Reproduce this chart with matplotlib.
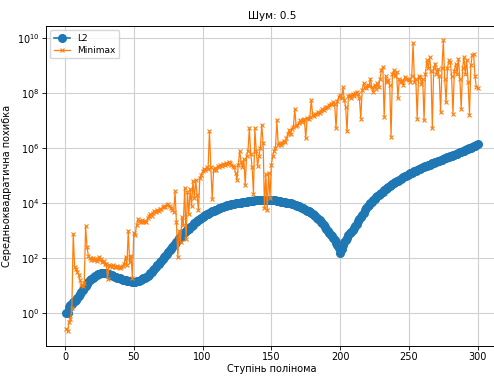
import numpy as np
import matplotlib
matplotlib.use("Agg")
import matplotlib.pyplot as plt

# polynomial degrees 1..300
degrees = list(range(1, 301))

# log10 of the mean squared error, L2 fit
l2_log = [
    0.0, 0.0, 0.25, 0.3, 0.35, 0.4, 0.45, 0.5, 0.56, 0.62,
    0.69, 0.77, 0.85, 0.93, 1.01, 1.08, 1.14, 1.2, 1.25, 1.3,
    1.34, 1.37, 1.4, 1.42, 1.44, 1.45, 1.46, 1.46, 1.46, 1.45,
    1.44, 1.42, 1.4, 1.38, 1.36, 1.34, 1.32, 1.3, 1.28, 1.27,
    1.25, 1.23, 1.21, 1.2, 1.19, 1.18, 1.17, 1.16, 1.15, 1.15,
    1.15, 1.16, 1.17, 1.19, 1.21, 1.24, 1.27, 1.3, 1.33, 1.36,
    1.4, 1.45, 1.5, 1.56, 1.62, 1.68, 1.74, 1.8, 1.86, 1.92,
    1.98, 2.04, 2.1, 2.16, 2.22, 2.29, 2.35, 2.41, 2.47, 2.53,
    2.6, 2.66, 2.72, 2.78, 2.83, 2.88, 2.94, 2.99, 3.04, 3.08,
    3.13, 3.18, 3.22, 3.27, 3.31, 3.35, 3.39, 3.43, 3.47, 3.5,
    3.53, 3.56, 3.59, 3.62, 3.65, 3.67, 3.7, 3.72, 3.74, 3.77,
    3.79, 3.81, 3.83, 3.85, 3.87, 3.88, 3.9, 3.92, 3.93, 3.95,
    3.96, 3.97, 3.98, 3.99, 4.0, 4.0, 4.01, 4.02, 4.03, 4.04,
    4.05, 4.06, 4.07, 4.07, 4.08, 4.09, 4.09, 4.1, 4.1, 4.11,
    4.11, 4.11, 4.12, 4.12, 4.12, 4.12, 4.12, 4.12, 4.12, 4.11,
    4.11, 4.1, 4.1, 4.09, 4.08, 4.07, 4.06, 4.05, 4.04, 4.03,
    4.02, 4.01, 4.0, 3.99, 3.98, 3.96, 3.95, 3.93, 3.91, 3.89,
    3.86, 3.84, 3.81, 3.78, 3.76, 3.73, 3.7, 3.67, 3.64, 3.6,
    3.56, 3.52, 3.48, 3.43, 3.38, 3.33, 3.27, 3.21, 3.14, 3.07,
    3.0, 2.93, 2.86, 2.8, 2.73, 2.65, 2.57, 2.48, 2.37, 2.2,
    2.35, 2.48, 2.58, 2.67, 2.75, 2.83, 2.9, 2.97, 3.04, 3.11,
    3.18, 3.26, 3.34, 3.42, 3.5, 3.58, 3.66, 3.74, 3.82, 3.88,
    3.94, 4.0, 4.06, 4.11, 4.16, 4.21, 4.26, 4.3, 4.34, 4.38,
    4.42, 4.46, 4.5, 4.54, 4.58, 4.62, 4.65, 4.69, 4.72, 4.76,
    4.79, 4.82, 4.85, 4.88, 4.91, 4.94, 4.97, 5.0, 5.03, 5.06,
    5.08, 5.11, 5.13, 5.16, 5.18, 5.21, 5.23, 5.25, 5.28, 5.3,
    5.32, 5.34, 5.36, 5.38, 5.4, 5.42, 5.44, 5.46, 5.48, 5.5,
    5.52, 5.54, 5.56, 5.58, 5.6, 5.62, 5.64, 5.66, 5.68, 5.7,
    5.72, 5.74, 5.76, 5.78, 5.8, 5.82, 5.84, 5.86, 5.88, 5.9,
    5.93, 5.95, 5.97, 5.99, 6.01, 6.03, 6.06, 6.08, 6.11, 6.14,
]

# log10 of the mean squared error, minimax fit
minimax_log = [
    -0.55, -0.65, -0.3, -0.2, 0.2, 2.88, 1.7, 1.6, 1.5, 1.4,
    1.2, 1.05, 1.0, 1.1, 3.17, 2.4, 2.1, 2.0, 1.95, 2.0,
    1.93, 1.97, 1.92, 1.96, 2.05, 1.98, 1.85, 1.9, 1.78, 1.8,
    1.25, 1.75, 1.72, 1.7, 1.74, 1.7, 1.68, 1.72, 1.7, 1.66,
    1.7, 1.72, 1.8, 2.05, 1.75, 3.0, 1.85, 2.1, 1.3, 2.93,
    2.85, 3.2, 3.42, 3.35, 3.3, 3.38, 3.32, 3.36, 3.3, 3.45,
    3.52, 3.6, 3.55, 3.65, 3.7, 3.68, 3.75, 3.72, 3.78, 3.8,
    3.85, 3.9, 3.85, 3.92, 3.96, 3.88, 3.82, 3.75, 3.68, 4.43,
    3.3, 2.03, 3.0, 2.6, 3.5, 3.2, 4.55, 2.7, 4.4, 3.6,
    4.5, 3.9, 4.79, 4.2, 4.85, 4.3, 3.75, 4.9, 5.03, 5.15,
    5.25, 5.2, 5.3, 5.25, 6.6, 5.3, 4.15, 5.2, 5.28, 5.22,
    5.35, 5.3, 5.38, 5.35, 5.42, 5.4, 5.45, 5.42, 5.48, 5.45,
    5.4, 5.35, 5.3, 5.1, 4.85, 5.4, 5.9, 5.5, 5.3, 5.6,
    4.67, 5.7, 5.9, 6.71, 5.8, 5.3, 4.35, 6.71, 5.9, 5.35,
    5.7, 6.0, 6.84, 6.2, 3.83, 5.04, 3.75, 5.1, 4.2, 5.4,
    5.7, 5.9, 6.0, 7.0, 6.1, 6.17, 6.1, 6.2, 6.25, 6.23,
    6.35, 6.5, 6.65, 6.5, 6.7, 6.75, 7.43, 6.8, 6.85, 6.9,
    7.0, 6.95, 7.0, 7.05, 6.35, 7.1, 7.05, 7.12, 7.74, 7.2,
    7.17, 7.22, 7.25, 7.3, 7.28, 7.35, 7.4, 7.38, 7.45, 7.5,
    7.48, 7.55, 7.6, 7.58, 7.67, 7.6, 6.71, 7.7, 7.85, 7.94,
    7.8, 8.2, 7.75, 7.5, 6.6, 7.9, 7.94, 7.8, 7.95, 7.9,
    8.0, 8.04, 7.95, 7.8, 7.07, 8.1, 8.35, 8.2, 8.16, 8.3,
    8.25, 8.52, 8.2, 8.04, 8.3, 8.15, 8.35, 8.2, 8.5, 8.82,
    8.94, 7.14, 8.6, 8.4, 8.45, 8.3, 6.41, 8.7, 8.82, 8.6,
    8.76, 7.8, 8.5, 8.4, 8.45, 8.3, 8.58, 8.5, 8.52, 8.45,
    8.4, 8.6, 9.8, 8.4, 8.5, 7.07, 8.6, 8.58, 8.34, 8.5,
    7.0, 8.7, 9.18, 8.9, 9.3, 8.8, 6.71, 8.9, 9.06, 8.7,
    8.88, 8.6, 7.3, 8.9, 9.9, 8.5, 7.66, 8.9, 9.18, 9.12,
    8.6, 7.25, 8.8, 9.06, 8.7, 9.24, 8.5, 7.43, 8.9, 9.3,
    8.7, 9.18, 8.4, 7.2, 9.0, 9.36, 9.42, 8.6, 8.22, 8.16,
]

l2_err = 10.0 ** np.array(l2_log)
minimax_err = 10.0 ** np.array(minimax_log)

fig = plt.figure(figsize=(4.94, 3.76), dpi=100)
ax = fig.add_axes([0.0927, 0.08, 0.916, 0.851])

ax.plot(degrees, l2_err, marker='o', markersize=5.5, linewidth=1.2,
        color='#1f77b4', label='L2')
ax.plot(degrees, minimax_err, marker='x', markersize=3.5, linewidth=0.9,
        markeredgewidth=0.8, color='#ff7f0e', label='Minimax')
ax.set_yscale('log')

ax.set_title('Шум: 0.5', fontsize=7.5, pad=5)
ax.set_xlabel('Ступінь полінома', fontsize=7, labelpad=1)
ax.set_ylabel('Середньоквадратична похибка', fontsize=7, labelpad=3)
ax.tick_params(labelsize=7, length=2.7, width=0.6, pad=2)
ax.tick_params(which='minor', length=0)
ax.grid(True, color='#d0d0d0', linewidth=0.8)
ax.legend(loc='upper left', fontsize=6.5, handlelength=1.8,
          borderpad=0.4, labelspacing=0.3)
for sp in ax.spines.values():
    sp.set_linewidth(0.7)

fig.savefig('out.png', dpi=100)
